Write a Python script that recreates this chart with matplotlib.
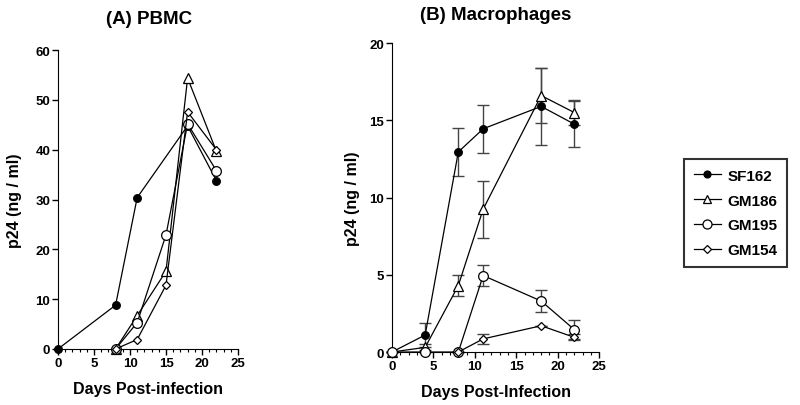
import matplotlib.pyplot as plt
from matplotlib.ticker import MultipleLocator
from matplotlib.lines import Line2D

plt.rcParams['font.family'] = ['Liberation Sans', 'DejaVu Sans']
plt.rcParams['font.weight'] = 'bold'

names = ['SF162', 'GM186', 'GM195', 'GM154']
markers = ['o', '^', 'o', 'D']
faces = ['black', 'white', 'white', 'white']
msizes = [5.5, 6.5, 7, 4.5]

# (A) PBMC
pb_days = {
    'SF162': [0, 8, 11, 18, 22],
    'GM186': [8, 11, 15, 18, 22],
    'GM195': [8, 11, 15, 18, 22],
    'GM154': [8, 11, 15, 18, 22],
}
pb_vals = {
    'SF162': [0, 8.8, 30.4, 44.8, 33.8],
    'GM186': [0, 6.7, 15.6, 54.4, 39.7],
    'GM195': [0, 5.3, 22.9, 45.2, 35.8],
    'GM154': [0, 1.9, 12.8, 47.6, 40.0],
}

# (B) Macrophages
mac_days = {
    'SF162': [0, 4, 8, 11, 18, 22],
    'GM186': [0, 4, 8, 11, 18, 22],
    'GM195': [0, 4, 8, 11, 18, 22],
    'GM154': [8, 11, 18, 22],
}
mac_vals = {
    'SF162': [0, 1.1, 12.95, 14.45, 15.9, 14.75],
    'GM186': [0, 0.3, 4.3, 9.25, 16.6, 15.5],
    'GM195': [0, 0, 0, 4.95, 3.3, 1.45],
    'GM154': [0, 0.85, 1.7, 0.95],
}
mac_err = {
    'SF162': [0, 0.75, 1.55, 1.55, 2.5, 1.5],
    'GM186': [0, 0.2, 0.7, 1.85, 1.8, 0.8],
    'GM195': [0, 0, 0, 0.68, 0.73, 0.63],
    'GM154': [0, 0.3, 0, 0.2],
}

fig = plt.figure(figsize=(8, 4.06), dpi=100)
axA = fig.add_axes([0.0725, 0.138, 0.225, 0.736])
axB = fig.add_axes([0.49, 0.1305, 0.259, 0.761])


def style(ax, ymax, ystep, xlabel):
    ax.set_xlim(0, 25)
    ax.set_ylim(0, ymax)
    ax.spines['top'].set_visible(False)
    ax.spines['right'].set_visible(False)
    ax.xaxis.set_major_locator(MultipleLocator(5))
    ax.xaxis.set_minor_locator(MultipleLocator(1))
    ax.yaxis.set_major_locator(MultipleLocator(ystep))
    ax.tick_params(axis='both', which='major', labelsize=9.5, length=4.5, width=1, pad=1)
    ax.tick_params(axis='x', which='minor', length=2.5, width=0.8)
    for lab in ax.get_xticklabels() + ax.get_yticklabels():
        lab.set_fontweight('bold')
    ax.set_xlabel(xlabel, fontsize=11.5, fontweight='bold', labelpad=9)
    ax.set_ylabel('p24 (ng / ml)', fontsize=11.5, fontweight='bold')


for i, n in enumerate(names):
    axA.plot(pb_days[n], pb_vals[n], color='black', lw=0.9, marker=markers[i],
             ms=msizes[i], mfc=faces[i], mec='black', mew=0.9, clip_on=False,
             zorder=3 + i * 0.1)
    axB.errorbar(mac_days[n], mac_vals[n], yerr=mac_err[n], fmt='none',
                 ecolor='#444444', elinewidth=1, capsize=4, capthick=1,
                 clip_on=False, zorder=2)
    axB.plot(mac_days[n], mac_vals[n], color='black', lw=0.9,
             marker=markers[i], ms=msizes[i], mfc=faces[i], mec='black', mew=0.9,
             clip_on=False, zorder=3 + i * 0.1)

style(axA, 60, 10, 'Days Post-infection')
style(axB, 20, 5, 'Days Post-Infection')
axA.yaxis.set_label_coords(-0.2, 0.5)
axB.yaxis.set_label_coords(-0.155, 0.5)

fig.text(149 / 800, 1 - 19 / 406, '(A) PBMC', ha='center', va='center',
         fontsize=13.5, fontweight='bold')
fig.text(496 / 800, 1 - 16 / 406, '(B) Macrophages', ha='center', va='center',
         fontsize=13.5, fontweight='bold')

handles = [Line2D([], [], color='black', lw=0.9, marker=markers[i], ms=msizes[i] - 0.5,
                  mfc=faces[i], mec='black', mew=0.9) for i in range(4)]
leg = fig.legend(handles, names, loc='upper left', bbox_to_anchor=(0.845, 0.625),
                 frameon=True, fancybox=False, edgecolor='black',
                 handlelength=1.8, handletextpad=0.4, borderpad=0.65, labelspacing=0.7,
                 prop={'weight': 'bold', 'size': 11})
leg.get_frame().set_linewidth(1.5)

fig.savefig('out.png', dpi=100)
